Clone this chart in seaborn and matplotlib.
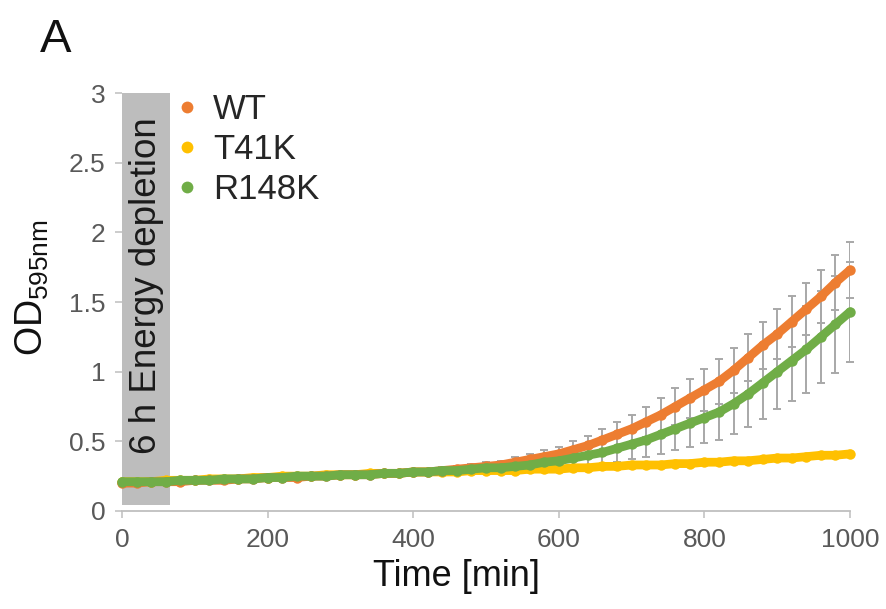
import numpy as np
import pandas as pd
import matplotlib
matplotlib.use('Agg')
import matplotlib.pyplot as plt
from matplotlib.patches import Rectangle
from matplotlib.lines import Line2D
import seaborn as sns

# time points [min]
time = np.arange(0, 1001, 20)

# OD595nm
wt = [0.20, 0.20, 0.21, 0.21, 0.21, 0.22, 0.22, 0.22, 0.23, 0.23,
      0.24, 0.24, 0.24, 0.25, 0.25, 0.26, 0.26, 0.26, 0.27, 0.27,
      0.28, 0.28, 0.29, 0.30, 0.31, 0.32, 0.33, 0.35, 0.37, 0.39,
      0.41, 0.44, 0.47, 0.51, 0.55, 0.59, 0.64, 0.69, 0.75, 0.81,
      0.87, 0.93, 1.01, 1.10, 1.19, 1.27, 1.36, 1.45, 1.54, 1.64, 1.73]
t41k = [0.21, 0.21, 0.21, 0.22, 0.22, 0.22, 0.23, 0.23, 0.23, 0.24,
        0.24, 0.25, 0.25, 0.25, 0.26, 0.26, 0.26, 0.27, 0.27, 0.27,
        0.28, 0.28, 0.28, 0.28, 0.29, 0.29, 0.29, 0.29, 0.30, 0.30,
        0.30, 0.31, 0.31, 0.32, 0.32, 0.33, 0.33, 0.33, 0.34, 0.34,
        0.35, 0.35, 0.36, 0.36, 0.37, 0.38, 0.38, 0.39, 0.40, 0.40, 0.41]
r148k = [0.21, 0.21, 0.21, 0.21, 0.22, 0.22, 0.22, 0.23, 0.23, 0.23,
         0.24, 0.24, 0.25, 0.25, 0.25, 0.26, 0.26, 0.26, 0.27, 0.27,
         0.28, 0.28, 0.29, 0.29, 0.30, 0.31, 0.31, 0.32, 0.33, 0.35,
         0.36, 0.38, 0.40, 0.42, 0.45, 0.48, 0.51, 0.55, 0.59, 0.63,
         0.67, 0.71, 0.77, 0.84, 0.92, 1.00, 1.08, 1.16, 1.25, 1.34, 1.43]

# standard deviations
wt_sd = [0.01] * 20 + [0.015, 0.02, 0.02, 0.02, 0.025, 0.03, 0.03, 0.035, 0.04, 0.045,
                       0.05, 0.06, 0.07, 0.08, 0.09, 0.10, 0.11, 0.12, 0.13, 0.14,
                       0.15, 0.16, 0.16, 0.17, 0.17, 0.18, 0.18, 0.19, 0.19, 0.20, 0.20]
t41k_sd = [0.01] * 26 + [0.015] * 25
r148k_sd = [0.015] * 20 + [0.02, 0.02, 0.025, 0.025, 0.03, 0.03, 0.035, 0.04, 0.045, 0.05,
                           0.06, 0.07, 0.08, 0.09, 0.10, 0.11, 0.12, 0.14, 0.15, 0.17,
                           0.18, 0.20, 0.22, 0.24, 0.26, 0.27, 0.29, 0.31, 0.33, 0.35, 0.36]

strains = ['WT', 'T41K', 'R148K']
colors = {'WT': '#ED7D31', 'T41K': '#FFC000', 'R148K': '#70AD47'}
draw_order = ['T41K', 'WT', 'R148K']

df = pd.concat([
    pd.DataFrame({'time': time, 'od': wt, 'sd': wt_sd, 'strain': 'WT'}),
    pd.DataFrame({'time': time, 'od': t41k, 'sd': t41k_sd, 'strain': 'T41K'}),
    pd.DataFrame({'time': time, 'od': r148k, 'sd': r148k_sd, 'strain': 'R148K'}),
])

sns.set_theme(style='white')
plt.rcParams['font.family'] = ['Liberation Sans', 'DejaVu Sans']

fig = plt.figure(figsize=(8.86, 6.09), dpi=100)
ax = fig.add_axes([0.1377, 0.161, 0.8217, 0.686])

# energy depletion box
ax.add_patch(Rectangle((0, 0.045), 66, 2.955, color='#BDBDBD', lw=0, zorder=1))
ax.text(33, 1.62, '6 h Energy depletion', rotation=90, ha='center', va='center',
        fontsize=26.5, color='#1a1a1a', zorder=4)

# error bars
for s in draw_order:
    d = df[df.strain == s]
    ax.errorbar(d.time, d.od, yerr=d.sd, fmt='none', ecolor='#A8A8A8',
                elinewidth=1.4, capsize=3, capthick=1.4, zorder=2)

sns.lineplot(data=df, x='time', y='od', hue='strain', hue_order=draw_order,
             palette=colors, marker='o', markersize=7.5, markeredgewidth=0,
             linewidth=6.3, legend=False, ax=ax, zorder=3)
for ln in ax.lines:
    ln.set_clip_on(False)
    ln.set_solid_capstyle('round')

ax.set_xlim(0, 1000)
ax.set_ylim(0, 3)
ax.set_xticks([0, 200, 400, 600, 800, 1000])
ax.set_yticks([0, 0.5, 1, 1.5, 2, 2.5, 3])
ax.set_yticklabels(['0', '0.5', '1', '1.5', '2', '2.5', '3'])

for sp in ['top', 'right', 'left']:
    ax.spines[sp].set_visible(False)
ax.spines['bottom'].set_color('#BFBFBF')
ax.spines['bottom'].set_linewidth(1.3)
ax.tick_params(axis='both', which='major', direction='out', length=5, width=1.1,
               color='#BFBFBF', labelcolor='#595959', labelsize=19, pad=7,
               bottom=True, left=True)

ax.set_xlabel('Time [min]', fontsize=26, color='#111111')
ax.xaxis.set_label_coords(0.459, -0.115)
ax.set_ylabel(r'OD$_\mathregular{595nm}$', fontsize=27, color='#111111')
ax.yaxis.set_label_coords(-0.097, 0.535)

handles = [Line2D([], [], ls='', marker='o', markersize=8.5, markeredgewidth=0,
                  color=colors[s]) for s in strains]
ax.legend(handles, strains, loc='upper left', bbox_to_anchor=(0.032, 1.058),
          frameon=False, fontsize=25, handletextpad=0.25, labelspacing=0.2,
          handlelength=1.0, borderpad=0.2)

fig.text(0.045, 0.97, 'A', fontsize=34, va='top', ha='left', color='#111111')

fig.savefig('out.png', dpi=100)
